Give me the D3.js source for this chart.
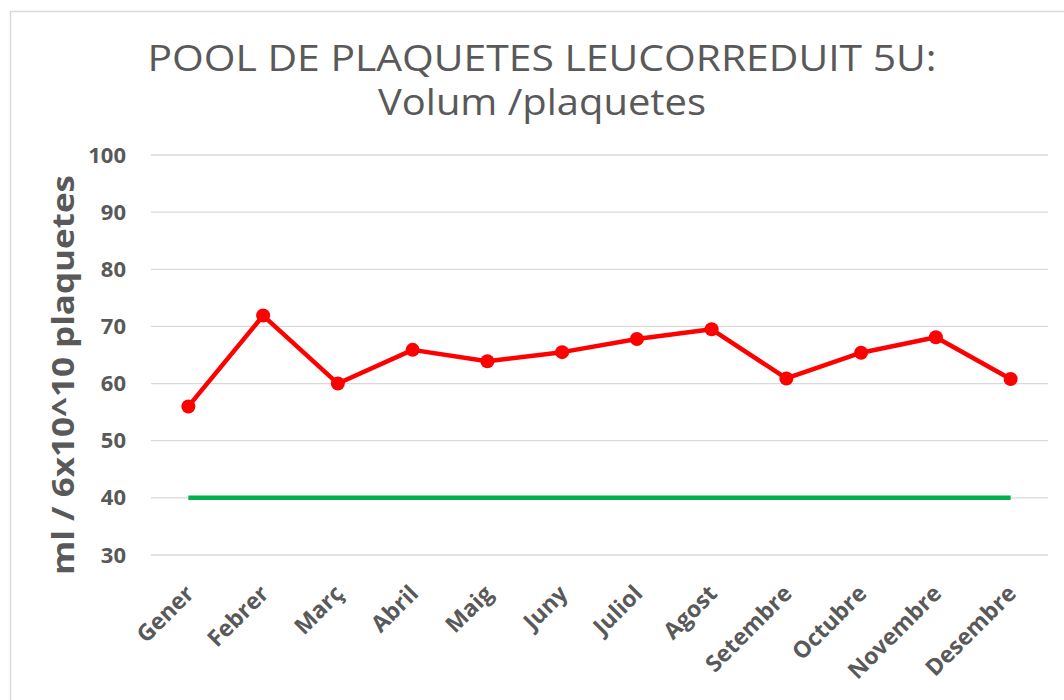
<!DOCTYPE html>
<html>
<head>
<meta charset="utf-8">
<script src="https://cdn.jsdelivr.net/npm/d3@7"></script>
<style>
  body { margin: 0; background: #fff; }
  text { fill: #595959; }
</style>
</head>
<body>
<svg width="1064" height="700"></svg>
<script>
const months = ["Gener", "Febrer", "Març", "Abril", "Maig", "Juny",
  "Juliol", "Agost", "Setembre", "Octubre", "Novembre", "Desembre"];
const volum = [56, 71.9, 60, 65.9, 63.9, 65.5, 67.8, 69.5, 60.9, 65.4, 68.1, 60.8];
const limit = [40, 40, 40, 40, 40, 40, 40, 40, 40, 40, 40, 40];
const yTicks = [30, 40, 50, 60, 70, 80, 90, 100];

const svg = d3.select("svg");

// marc del gràfic
svg.append("rect")
  .attr("x", 10.5).attr("y", 11.5)
  .attr("width", 1070).attr("height", 700)
  .attr("fill", "none")
  .attr("stroke", "#d9d9d9")
  .attr("stroke-width", 1.5);

const x = d3.scaleBand().domain(months).range([151, 1048]);
const y = d3.scaleLinear().domain([30, 100]).range([555, 155]);

// línies de graella
svg.append("g")
  .selectAll("line")
  .data(yTicks)
  .enter()
  .append("line")
  .attr("x1", 151).attr("x2", 1048)
  .attr("y1", d => y(d)).attr("y2", d => y(d))
  .attr("stroke", "#d9d9d9")
  .attr("stroke-width", 1.3);

// eix Y
const yAxis = svg.append("g")
  .attr("transform", "translate(126,0)")
  .call(d3.axisLeft(y).tickValues(yTicks).tickSize(0).tickPadding(0));
yAxis.select(".domain").remove();
yAxis.selectAll("text")
  .attr("font-family", "Open Sans")
  .attr("font-weight", "bold")
  .attr("font-size", 22)
  .attr("fill", "#595959");

// eix X
const xAxis = svg.append("g")
  .attr("transform", "translate(0,555)")
  .call(d3.axisBottom(x).tickSize(0).tickPadding(0));
xAxis.select(".domain").remove();
xAxis.selectAll("text")
  .attr("font-family", "Open Sans")
  .attr("font-weight", "bold")
  .attr("font-size", 23)
  .attr("fill", "#595959")
  .attr("text-anchor", "end")
  .attr("dy", 0)
  .attr("transform", "translate(7,40) rotate(-45)");

// títol
svg.append("text")
  .attr("x", 542).attr("y", 71)
  .attr("text-anchor", "middle")
  .attr("font-family", "Open Sans")
  .attr("font-size", 37)
  .attr("textLength", 789)
  .attr("lengthAdjust", "spacingAndGlyphs")
  .text("POOL DE PLAQUETES LEUCORREDUIT 5U:");
svg.append("text")
  .attr("x", 542).attr("y", 115)
  .attr("text-anchor", "middle")
  .attr("font-family", "Open Sans")
  .attr("font-size", 37)
  .attr("textLength", 328)
  .attr("lengthAdjust", "spacingAndGlyphs")
  .text("Volum /plaquetes");

// títol eix Y
svg.append("text")
  .attr("transform", "translate(74,375) rotate(-90)")
  .attr("text-anchor", "middle")
  .attr("font-family", "Open Sans")
  .attr("font-weight", "bold")
  .attr("font-size", 31)
  .attr("textLength", 400)
  .attr("lengthAdjust", "spacingAndGlyphs")
  .text("ml / 6x10^10 plaquetes");

const line = d3.line()
  .x((d, i) => x(months[i]) + x.bandwidth() / 2)
  .y(d => y(d));

// límit mínim
svg.append("path")
  .datum(limit)
  .attr("d", line)
  .attr("fill", "none")
  .attr("stroke", "#00b050")
  .attr("stroke-width", 4.5);

// sèrie de volum
svg.append("path")
  .datum(volum)
  .attr("d", line)
  .attr("fill", "none")
  .attr("stroke", "#ff0000")
  .attr("stroke-width", 4.5)
  .attr("stroke-linejoin", "round");

svg.append("g")
  .selectAll("circle")
  .data(volum)
  .enter()
  .append("circle")
  .attr("cx", (d, i) => x(months[i]) + x.bandwidth() / 2)
  .attr("cy", d => y(d))
  .attr("r", 7)
  .attr("fill", "#ff0000");
</script>
</body>
</html>
